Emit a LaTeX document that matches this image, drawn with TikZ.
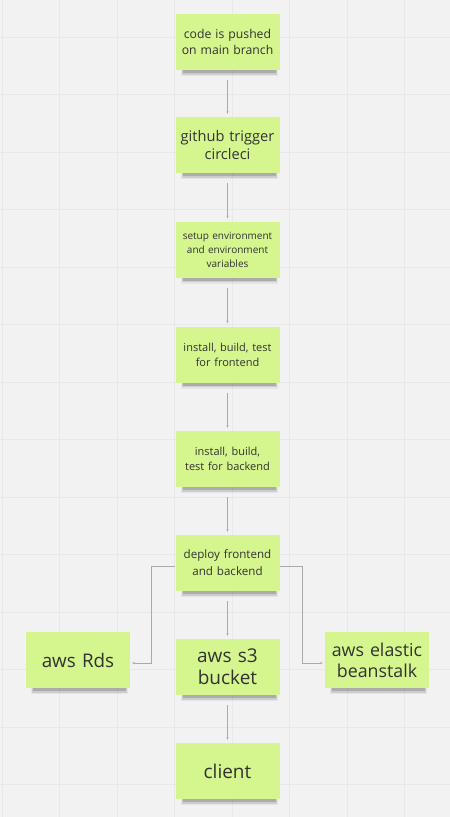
\documentclass[tikz,border=0pt]{standalone}
\usepackage{fontspec}
\setmainfont{Open Sans}
\usetikzlibrary{arrows.meta}
\definecolor{bgc}{RGB}{242,242,242}
\definecolor{gridc}{RGB}{232,232,232}
\definecolor{cardc}{RGB}{213,245,142}
\definecolor{txtc}{RGB}{50,50,50}
\definecolor{connc}{RGB}{170,170,170}
\tikzset{
  card/.style={rectangle, fill=cardc, minimum width=104pt, minimum height=56pt, inner sep=0pt, text width=102pt, align=center, text=txtc},
  conn/.style={draw=connc, line width=0.7pt, -{Stealth[length=2.6pt,width=2.2pt]}},
}
\newcommand\mkcard[5]{%
  \fill[black,opacity=0.05] ({#2-47},{#3+18}) rectangle ({#2+50},{#3+34});
  \fill[black,opacity=0.10] ({#2-46},{#3+20}) rectangle ({#2+49},{#3+32.5});
  \fill[black,opacity=0.16] ({#2-45},{#3+22}) rectangle ({#2+48},{#3+31});
  \node[card,font=#4] (#1) at (#2,#3) {#5};%
}
\begin{document}
\begin{tikzpicture}[x=1pt,y=-1pt]
\useasboundingbox (0,0) rectangle (450,817);
\fill[bgc] (0,0) rectangle (450,817);
\foreach \i in {0,...,8} {
  \draw[gridc, line width=0.8pt] ({2+57.5*\i},0) -- ({2+57.5*\i},817);
}
\foreach \j in {0,...,13} {
  \draw[gridc, line width=0.8pt] (0,{37+57.5*\j}) -- (450,{37+57.5*\j});
}
\foreach \j in {1,5,9,13} {
  \draw[gridc, line width=1.4pt] (0,{37+57.5*\j}) -- (450,{37+57.5*\j});
}
\mkcard{code}{227.5}{42}{\fontsize{12.2}{16}\selectfont}{code is pushed\\on main branch}
\mkcard{github}{227.5}{145}{\fontsize{14.6}{18}\selectfont}{github trigger\\circleci}
\mkcard{setup}{227.5}{249.5}{\fontsize{10}{14}\selectfont}{setup environment\\and environment\\variables}
\mkcard{front}{227.5}{354.5}{\fontsize{11}{15}\selectfont}{install, build, test\\for frontend}
\mkcard{back}{227.5}{459}{\fontsize{11}{15}\selectfont}{install, build,\\test for backend}
\mkcard{deploy}{227.5}{563}{\fontsize{11.6}{17}\selectfont}{deploy frontend\\and backend}
\mkcard{s3}{227.5}{667}{\fontsize{19}{22}\selectfont}{aws s3\\bucket}
\mkcard{rds}{78}{660}{\fontsize{18.8}{22}\selectfont}{aws Rds}
\mkcard{bean}{377}{660}{\fontsize{17.8}{21}\selectfont}{aws elastic\\beanstalk}
\mkcard{client}{227.5}{771}{\fontsize{19}{22}\selectfont}{client}
\draw[conn] ([yshift=-10pt]code.south) -- ([yshift=3pt]github.north);
\draw[conn] ([yshift=-10pt]github.south) -- ([yshift=3pt]setup.north);
\draw[conn] ([yshift=-10pt]setup.south) -- ([yshift=3pt]front.north);
\draw[conn] ([yshift=-10pt]front.south) -- ([yshift=3pt]back.north);
\draw[conn] ([yshift=-10pt]back.south) -- ([yshift=3pt]deploy.north);
\draw[conn] ([yshift=-10pt]deploy.south) -- ([yshift=3pt]s3.north);
\draw[conn] ([yshift=-10pt]s3.south) -- ([yshift=3pt]client.north);
\draw[conn] ([yshift=-3pt]deploy.west) -- ++(-24,0) |- ([xshift=2pt,yshift=-3pt]rds.east);
\draw[conn] ([yshift=-3pt]deploy.east) -- ++(23,0) |- ([xshift=-2pt,yshift=-3pt]bean.west);
\end{tikzpicture}
\end{document}
